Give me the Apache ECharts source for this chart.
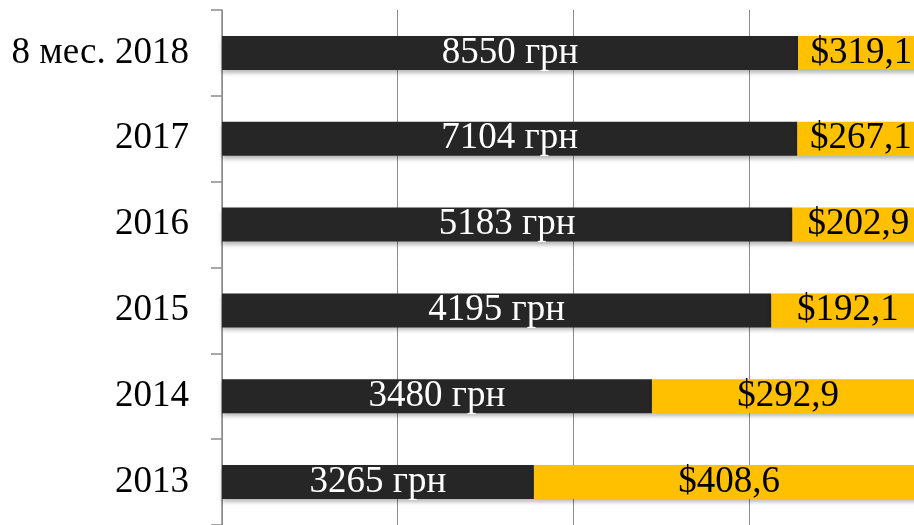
<!DOCTYPE html>
<html>
<head>
<meta charset="utf-8">
<script src="https://cdn.jsdelivr.net/npm/echarts@6/dist/echarts.min.js"></script>
<style>
html,body{margin:0;padding:0;background:#fff;}
#chart{width:914px;height:525px;}
</style>
</head>
<body>
<div id="chart"></div>
<script>
// Categories, bottom to top
const categories = ['2013', '2014', '2015', '2016', '2017', '8 мес. 2018'];
// Salary in hryvnia (label of dark segment)
const hrnValues = [3265, 3480, 4195, 5183, 7104, 8550];
// Salary in dollars (label of gold segment)
const usdValues = [408.6, 292.9, 192.1, 202.9, 267.1, 319.1];
// Segment shares (%)
const hrnShare = [44.4, 61.2, 78.2, 81.2, 81.9, 82.0];
const usdShare = [55.6, 38.8, 21.8, 18.8, 18.1, 18.0];
// Visible part of the 0–100 % axis (the picture is cropped at the right)
const xMin = 0, xVisibleMax = 98.5, xInterval = 25;

const FONT = '"Liberation Serif", "Times New Roman", serif';
const chart = echarts.init(document.getElementById('chart'), null, {renderer: 'canvas'});
const shadow = {shadowBlur: 4, shadowOffsetY: 3, shadowColor: 'rgba(0,0,0,0.28)'};

chart.setOption({
  animation: false,
  grid: {left: 222, top: 10, right: 0, height: 517, containLabel: false},
  xAxis: {
    type: 'value', min: xMin, max: xVisibleMax, interval: xInterval,
    axisLine: {show: false}, axisTick: {show: false}, axisLabel: {show: false},
    splitLine: {show: true, showMaxLine: false, lineStyle: {color: '#8c8c8c', width: 1}}
  },
  yAxis: {
    type: 'category', data: categories,
    axisLine: {show: true, lineStyle: {color: '#8c8c8c', width: 1.5}},
    axisTick: {show: true, length: 11, alignWithLabel: false, lineStyle: {color: '#8c8c8c', width: 1.5}},
    axisLabel: {margin: 33, color: '#000', fontFamily: FONT, fontSize: 37}
  },
  series: [
    {
      type: 'bar', stack: 'total', barWidth: 34, data: hrnShare, clip: false,
      itemStyle: Object.assign({color: '#262626'}, shadow),
      label: {
        show: true, position: 'inside', color: '#fff', fontFamily: FONT, fontSize: 37,
        formatter: p => hrnValues[p.dataIndex] + ' грн'
      }
    },
    {
      type: 'bar', stack: 'total', barWidth: 34, data: usdShare, clip: false,
      itemStyle: Object.assign({color: '#FFC000'}, shadow),
      label: {
        show: true, position: 'inside', color: '#000', fontFamily: FONT, fontSize: 37,
        formatter: p => '$' + usdValues[p.dataIndex].toFixed(1).replace('.', ',')
      }
    }
  ]
});
</script>
</body>
</html>
